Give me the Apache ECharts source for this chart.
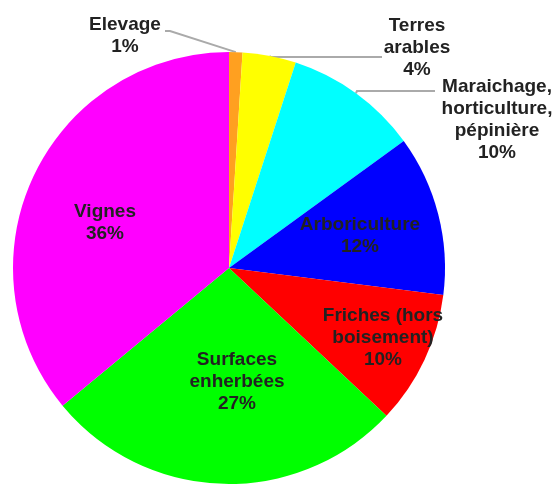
<!DOCTYPE html>
<html>
<head>
<meta charset="utf-8">
<script src="https://cdn.jsdelivr.net/npm/echarts@6/dist/echarts.min.js"></script>
<style>
  html, body { margin: 0; padding: 0; background: #fff; }
  #chart { width: 557px; height: 486px; }
</style>
</head>
<body>
<div id="chart"></div>
<script>
// Data
const categories = ['Elevage', 'Terres\narables', 'Maraichage,\nhorticulture,\npépinière', 'Arboriculture', 'Friches (hors\nboisement)', 'Surfaces\nenherbées', 'Vignes'];
const values = [1, 4, 10, 12, 10, 27, 36];
const colors = ['#FFA020', '#FFFF00', '#00FFFF', '#0000FF', '#FF0000', '#00FF00', '#FF00FF'];
const outsideLabel = [true, true, true, false, false, false, false];

// Label placement (layout only)
const labelPos = [[125, 36], [417, 48], [497, 120], [360, 236], [383, 338], [237, 382], [105, 223]];
const lineElbow = [[170, 31], [382, 57], [435, 91]];

const chart = echarts.init(document.getElementById('chart'));
chart.setOption({
  animation: false,
  backgroundColor: '#ffffff',
  series: [{
    type: 'pie',
    center: [229, 268],
    radius: 216,
    startAngle: 90,
    clockwise: true,
    avoidLabelOverlap: false,
    itemStyle: { borderWidth: 0 },
    label: {
      show: true,
      formatter: '{b}\n{d}%',
      fontFamily: 'Liberation Sans, Arial, sans-serif',
      fontWeight: 'bold',
      fontSize: 19,
      lineHeight: 22,
      color: '#222',
      align: 'center'
    },
    labelLine: {
      show: true,
      length: 10,
      length2: 20,
      lineStyle: { color: '#aaaaaa', width: 2 }
    },
    emphasis: { disabled: true },
    data: categories.map((c, i) => ({
      name: c,
      value: values[i],
      itemStyle: { color: colors[i] },
      label: { position: outsideLabel[i] ? 'outside' : 'inside' },
      labelLine: { show: outsideLabel[i] }
    })),
    labelLayout: function (params) {
      const i = params.dataIndex;
      const p = labelPos[i];
      const res = { x: p[0], y: p[1], align: 'center', verticalAlign: 'middle' };
      if (outsideLabel[i] && params.labelLinePoints) {
        const start = params.labelLinePoints[0];
        const elbow = lineElbow[i];
        if (i === 0) {
          res.labelLinePoints = [start, elbow, [elbow[0] - 5, elbow[1]]];
        } else {
          res.labelLinePoints = [start, [start[0] + 1, elbow[1]], elbow];
        }
      }
      return res;
    }
  }]
});
</script>
</body>
</html>
